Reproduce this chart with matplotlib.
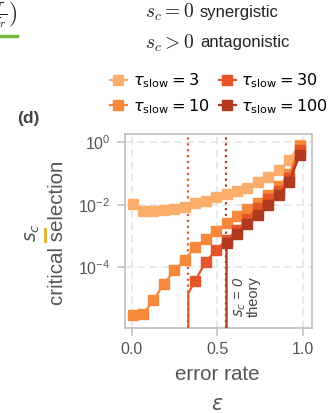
import matplotlib
matplotlib.use('Agg')
import matplotlib.pyplot as plt
from matplotlib.lines import Line2D
from matplotlib.patches import Rectangle

plt.rcParams['font.family'] = ['Liberation Sans', 'DejaVu Sans']

# error rates of the simulated points
eps = [0.005, 0.066, 0.127, 0.188, 0.249, 0.31, 0.370, 0.431, 0.492,
       0.553, 0.614, 0.675, 0.736, 0.797, 0.858, 0.919, 0.979]

# log10 of critical selection
log_sc_3 = [-1.97, -2.18, -2.20, -2.17, -2.12, -2.06, -1.95, -1.87, -1.74,
            -1.66, -1.57, -1.45, -1.27, -1.10, -0.89, -0.56, -0.07]
log_sc_10 = [-5.53, -5.50, -5.04, -4.53, -4.09, -3.75, -3.36, -3.09, -2.84,
             -2.59, -2.35, -2.13, -1.93, -1.67, -1.40, -1.02, -0.12]
log_sc_30 = [-4.43, -3.82, -3.45, -3.12, -2.81, -2.45, -2.10, -1.81, -1.55,
             -1.15, -0.25]
log_sc_100 = [-3.23, -2.92, -2.60, -2.33, -2.01, -1.69, -1.26, -0.41]

# s_c = 0 thresholds (theory) and where the curves start
thr_30 = 0.33
thr_100 = 0.548
start_30 = 6
start_100 = 9
log_thr_30 = -4.83

taus = [3, 10, 30, 100]
colors = ['#fbae6c', '#f5883a', '#e4552a', '#b03a20']

fig = plt.figure(figsize=(3.32, 4.13), dpi=100)
ax = fig.add_axes([124.5 / 332, 85 / 413, 187.5 / 332, 194 / 413])

lw = 1.6
ms = 6.8

ax.plot(eps, [10 ** v for v in log_sc_3], color=colors[0], lw=lw,
        marker='s', ms=ms, zorder=3)
ax.plot(eps, [10 ** v for v in log_sc_10], color=colors[1], lw=lw,
        marker='s', ms=ms, zorder=3)

x30 = [thr_30, thr_30] + eps[start_30:]
y30 = [1e-9, 10 ** log_thr_30] + [10 ** v for v in log_sc_30]
ax.plot(x30, y30, color=colors[2], lw=lw, marker='s', ms=ms,
        markevery=list(range(2, len(x30))), zorder=3)

x100 = [eps[start_100]] + eps[start_100:]
y100 = [1e-9] + [10 ** v for v in log_sc_100]
ax.plot(x100, y100, color=colors[3], lw=lw, marker='s', ms=ms,
        markevery=list(range(1, len(x100))), zorder=3)

ax.axvline(thr_30, color=colors[2], ls=':', lw=1.6, zorder=2)
ax.axvline(thr_100, color=colors[3], ls=':', lw=1.6, zorder=2)

ax.text(0.628, 10 ** -4.94, '$s_c$ = 0', rotation=90, ha='center', va='center',
        fontsize=10.5, style='italic', color='#444444')
ax.text(0.712, 10 ** -4.94, 'theory', rotation=90, ha='center', va='center',
        fontsize=10.5, color='#444444')

ax.set_yscale('log')
ax.set_xlim(-0.042, 1.051)
ax.set_ylim(10 ** -5.94, 10 ** 0.27)
ax.set_yticks([1e-4, 1e-2, 1])
ax.set_xticks([0.0, 0.5, 1.0])
ax.set_xticklabels(['0.0', '0.5', '1.0'])
ax.minorticks_off()
ax.grid(True, color='#e3e3e3', ls=(0, (5, 3)), lw=1.1, zorder=0)
for s in ax.spines.values():
    s.set_color('#bdbdbd')
    s.set_linewidth(1.2)
ax.tick_params(colors='#bdbdbd', labelcolor='#555555', labelsize=11.5,
               length=6, width=1.1, pad=4)

ax.set_ylabel('critical selection', fontsize=14.8, color='#555555')
ax.yaxis.set_label_coords(-(124.5 - 67) / 187.5, (328 - 232.5) / 194)

fig.text(217 / 332, 1 - 374 / 413, 'error rate', fontsize=14.8,
         color='#555555', ha='center', va='center')
fig.text(217 / 332, 1 - 404 / 413, r'$\varepsilon$', fontsize=14.8,
         color='#555555', ha='center', va='center')

fig.text(33 / 332, 1 - 233 / 413, '$s_c$', fontsize=13.5, rotation=90,
         color='#555555', ha='center', va='center')
fig.add_artist(Rectangle((43.5 / 332, 1 - 243 / 413), 3 / 332, 15 / 413,
                         transform=fig.transFigure, color='#e8b53a', lw=0))

fig.text(28 / 332, 1 - 118 / 413, '(d)', fontsize=12.5, fontweight='bold',
         color='#444444', ha='center', va='center')

# legend
handles = [Line2D([], [], color=c, lw=lw, marker='s', ms=ms) for c in colors]
labels = [r'$\tau_\mathrm{slow} = %d$' % t for t in taus]
fig.legend(handles, labels, ncol=2, loc='center',
           bbox_to_anchor=(219 / 332, 1 - 93.5 / 413), frameon=False,
           fontsize=11.6, handlelength=1.05, handletextpad=0.35,
           columnspacing=0.6, labelspacing=0.45, borderpad=0.0)

# pieces of the neighbouring panel
fig.text(145 / 332, 1 - 12 / 413, r'$s_c = 0$', fontsize=14,
         math_fontfamily='cm', ha='left', va='center', color='#222222')
fig.text(200 / 332, 1 - 12 / 413, 'synergistic', fontsize=12,
         ha='left', va='center', color='#222222')
fig.text(145 / 332, 1 - 43 / 413, r'$s_c > 0$', fontsize=14,
         math_fontfamily='cm', ha='left', va='center', color='#222222')
fig.text(200 / 332, 1 - 43 / 413, 'antagonistic', fontsize=12,
         ha='left', va='center', color='#222222')
fig.text(18 / 332, 1 - 15 / 413, r'$\left(\frac{\tau}{\tau_r}\right)$',
         fontsize=17, math_fontfamily='cm', ha='right', va='center',
         color='#222222')
fig.add_artist(Line2D([0, 17 / 332], [1 - 36 / 413, 1 - 36 / 413],
                      transform=fig.transFigure, color='#77b843', lw=2.5))

fig.savefig('out.png', dpi=100)
